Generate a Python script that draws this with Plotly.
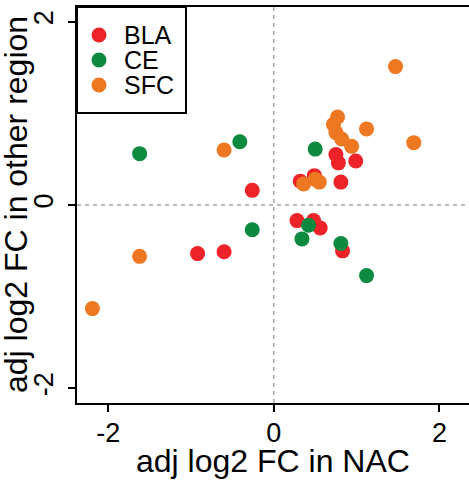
import plotly.graph_objects as go

# ---- data ----
groups = ["BLA", "CE", "SFC"]
colors = ["#EE2229", "#0B8A40", "#EE7722"]

BLA_x = [-0.26, -0.92, -0.60, 0.75, 0.78, 0.99, 0.81, 0.32, 0.49, 0.28, 0.48, 0.56, 0.83]
BLA_y = [0.16, -0.53, -0.51, 0.55, 0.46, 0.48, 0.25, 0.26, 0.32, -0.17, -0.17, -0.25, -0.50]

CE_x = [-1.62, -0.41, -0.26, 0.50, 0.42, 0.34, 0.81, 1.12]
CE_y = [0.56, 0.69, -0.27, 0.61, -0.22, -0.37, -0.42, -0.77]

SFC_x = [-2.19, -1.62, -0.60, 1.47, 1.12, 1.69, 0.77, 0.72, 0.75, 0.82, 0.94, 0.36, 0.50, 0.55]
SFC_y = [-1.13, -0.56, 0.60, 1.51, 0.83, 0.68, 0.96, 0.88, 0.79, 0.72, 0.64, 0.23, 0.28, 0.25]

tick_vals = [-2, 0, 2]
tick_text = ["-2", "0", "2"]
x_title = "adj log2 FC in NAC"
y_title = "adj log2 FC in other region"

FONT = "Liberation Sans, Arial, sans-serif"
W, H = 469, 482
ML, MT, MB = 77, 7, 79
PW, PH = W - ML, H - MT - MB

fig = go.Figure()
for name, xs, ys, col in zip(groups, [BLA_x, CE_x, SFC_x], [BLA_y, CE_y, SFC_y], colors):
    fig.add_trace(go.Scatter(x=xs, y=ys, mode="markers", name=name, showlegend=False,
                             marker=dict(size=15, color=col, line=dict(width=0))))

axis_common = dict(showgrid=False, zeroline=False, showline=True, linecolor="black", linewidth=2,
                   ticks="outside", ticklen=7, tickwidth=2, tickcolor="black",
                   tickvals=tick_vals, ticktext=tick_text,
                   tickfont=dict(family=FONT, size=27, color="black"))

fig.update_xaxes(range=[-2.376, 2.357], mirror=True, ticklabelstandoff=-2, **axis_common)
fig.update_yaxes(range=[-2.16, 2.16], tickangle=-90, ticklabelstandoff=4, **axis_common)

shapes = [
    dict(type="line", xref="x", yref="paper", x0=0, x1=0, y0=0, y1=1,
         line=dict(color="#A8A8A8", width=1.5, dash="4px,4px"), layer="below"),
    dict(type="line", xref="paper", yref="y", x0=0, x1=1, y0=0, y1=0,
         line=dict(color="#A8A8A8", width=1.5, dash="4px,4px"), layer="below"),
]

# legend box
lx1 = (186 - ML) / PW
ly0 = 1 - (113 - MT) / PH
shapes.append(dict(type="rect", xref="paper", yref="paper", x0=0, x1=lx1, y0=ly0, y1=1,
                   line=dict(color="black", width=2), fillcolor="white", layer="above"))
annotations = []
mx = (99 - ML) / PW
tx = (122 - ML) / PW
for i, (name, col) in enumerate(zip(groups, colors)):
    py = 35 + 25 * i
    yp = 1 - (py - MT) / PH
    shapes.append(dict(type="circle", xref="paper", yref="paper", xsizemode="pixel", ysizemode="pixel",
                       xanchor=mx, yanchor=yp, x0=-7.5, x1=7.5, y0=-7.5, y1=7.5,
                       fillcolor=col, line=dict(width=0), layer="above"))
    annotations.append(dict(text=name, xref="paper", yref="paper", x=tx, y=yp, xanchor="left",
                            yanchor="middle", showarrow=False,
                            font=dict(family=FONT, size=25, color="black")))

annotations.append(dict(text=x_title, xref="paper", yref="paper", x=0.5, y=0, xanchor="center",
                        yanchor="middle", yshift=-58, showarrow=False,
                        font=dict(family=FONT, size=32, color="black")))
annotations.append(dict(text=y_title, xref="paper", yref="paper", x=0, y=0.5, xanchor="center",
                        yanchor="middle", xshift=-61, textangle=-90, showarrow=False,
                        font=dict(family=FONT, size=32, color="black")))

fig.update_layout(width=W, height=H, autosize=False,
                  margin=dict(l=ML, r=0, t=MT, b=MB, pad=0),
                  paper_bgcolor="white", plot_bgcolor="white",
                  shapes=shapes, annotations=annotations, showlegend=False)

fig.write_html("out.html")
